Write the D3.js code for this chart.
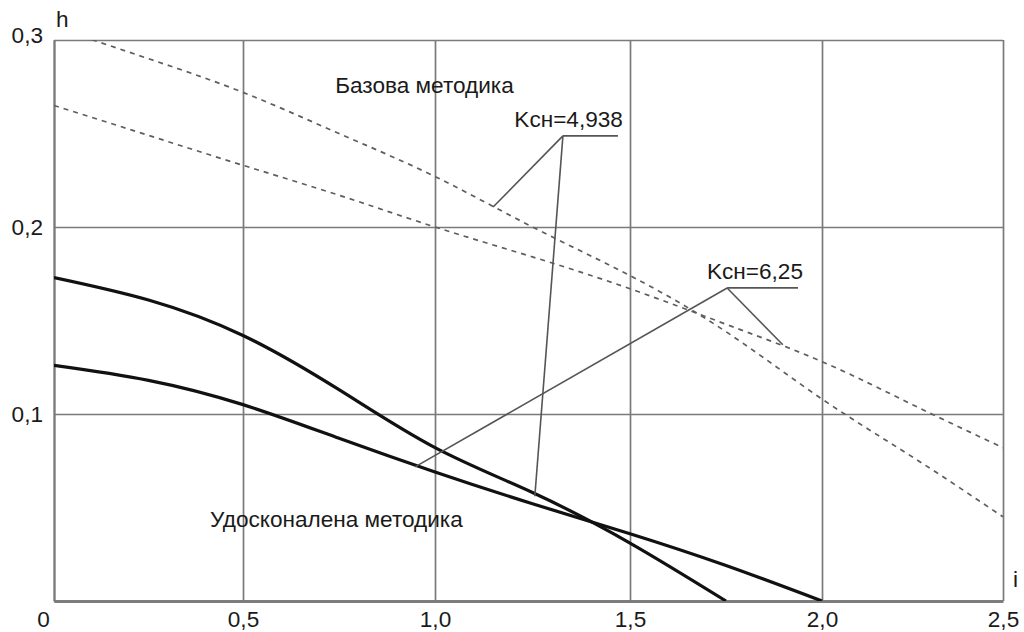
<!DOCTYPE html>
<html>
<head>
<meta charset="utf-8">
<script src="https://cdn.jsdelivr.net/npm/d3@7"></script>
<style>
  body { margin: 0; background: #fff; }
  text { font-family: "Liberation Sans", Arial, sans-serif; fill: #1a1a1a; }
</style>
</head>
<body>
<svg id="chart" width="1024" height="632"></svg>
<script>
// i grid and series
const iGrid = [0, 0.25, 0.5, 0.75, 1.0, 1.25, 1.5, 1.75, 2.0, 2.25, 2.5];
const baseK4938 = [0.307, 0.290, 0.272, 0.250, 0.227, 0.200, 0.174, 0.144, 0.108, 0.077, 0.045];
const baseK625 = [0.265, 0.249, 0.233, 0.217, 0.200, 0.184, 0.167, 0.148, 0.128, 0.105, 0.082];
const improvedK4938 = [0.173, 0.161, 0.142, 0.113, 0.082, 0.058, 0.031, 0];
const improvedK625 = [0.126, 0.118, 0.105, 0.087, 0.069, 0.052, 0.036, 0.019, 0];

const xTicks = [0, 0.5, 1.0, 1.5, 2.0, 2.5];
const xTickLabels = ["0", "0,5", "1,0", "1,5", "2,0", "2,5"];
const yTicks = [0, 0.1, 0.2, 0.3];
const yTickLabels = ["", "0,1", "0,2", "0,3"];

const svg = d3.select("#chart");
const fontSize = 22.6;

// the grid in the source is not quite even, so map each tick separately
const x = d3.scaleLinear().domain(xTicks).range([54, 243, 435, 630, 822, 1003]);
const y = d3.scaleLinear().domain([0, 0.3]).range([601, 40]);

const plotW = x(2.5) - x(0);
const plotH = y(0) - y(0.3);

svg.append("defs").append("clipPath").attr("id", "plot")
  .append("rect")
  .attr("x", x(0)).attr("y", y(0.3))
  .attr("width", plotW).attr("height", plotH);

// grid + axes
const gx = svg.append("g")
  .attr("transform", `translate(0,${y(0)})`)
  .call(d3.axisBottom(x)
    .tickValues(xTicks)
    .tickSizeInner(-plotH)
    .tickSizeOuter(0)
    .tickPadding(10)
    .tickFormat((d, k) => xTickLabels[k]));

const gy = svg.append("g")
  .attr("transform", `translate(${x(0)},0)`)
  .call(d3.axisLeft(y)
    .tickValues(yTicks)
    .tickSizeInner(-plotW)
    .tickSizeOuter(0)
    .tickPadding(11)
    .tickFormat((d, k) => yTickLabels[k]));

[gx, gy].forEach(g => {
  g.selectAll(".tick line").attr("stroke", "#7a7a7a").attr("stroke-width", 1.7);
  g.selectAll("text").attr("font-size", fontSize).attr("fill", "#1a1a1a")
    .style("font-family", "'Liberation Sans', Arial, sans-serif");
});
gx.select(".domain").attr("stroke", "#808080").attr("stroke-width", 3);
gy.select(".domain").attr("stroke", "#7a7a7a").attr("stroke-width", 2);
gx.selectAll(".tick").filter(d => d === 0).select("text").attr("dx", -11);
gy.selectAll(".tick").filter(d => d === 0.3).select("text").attr("dy", "0.1em");

// axis names
svg.append("text").attr("x", x(0) + 2).attr("y", y(0.3) - 13)
  .attr("font-size", fontSize).text("h");
svg.append("text").attr("x", x(2.5) + 10).attr("y", y(0) - 14)
  .attr("font-size", fontSize).text("i");

// curves
const plot = svg.append("g").attr("clip-path", "url(#plot)");
const line = d3.line()
  .x(d => x(d[0]))
  .y(d => y(d[1]))
  .curve(d3.curveNatural);

const pair = vals => vals.map((v, k) => [iGrid[k], v]);

[baseK4938, baseK625].forEach(s => {
  plot.append("path")
    .attr("d", line(pair(s)))
    .attr("fill", "none")
    .attr("stroke", "#5e5e5e")
    .attr("stroke-width", 1.7)
    .attr("stroke-dasharray", "5,5");
});

[improvedK4938, improvedK625].forEach(s => {
  plot.append("path")
    .attr("d", line(pair(s)))
    .attr("fill", "none")
    .attr("stroke", "#111")
    .attr("stroke-width", 3.2);
});

// leader callouts
const callouts = [
  { label: "Kсн=4,938", knee: [1.328, 0.2487], end: 1.469, targets: [[1.149, 0.2107], [1.256, 0.056]] },
  { label: "Kсн=6,25", knee: [1.753, 0.1674], end: 1.9375, targets: [[0.948, 0.0717], [1.898, 0.137]] }
];

callouts.forEach(c => {
  const g = svg.append("g");
  const kx = x(c.knee[0]), ky = y(c.knee[1]);
  g.append("line")
    .attr("x1", kx).attr("y1", ky).attr("x2", x(c.end)).attr("y2", ky)
    .attr("stroke", "#555").attr("stroke-width", 1.7);
  c.targets.forEach(t => {
    g.append("line")
      .attr("x1", kx).attr("y1", ky).attr("x2", x(t[0])).attr("y2", y(t[1]))
      .attr("stroke", "#555").attr("stroke-width", 1.6);
  });
  g.append("text")
    .attr("x", x(c.end) + 5).attr("y", ky - 9)
    .attr("text-anchor", "end")
    .attr("font-size", fontSize)
    .text(c.label);
});

svg.append("text").attr("x", x(0.74)).attr("y", y(0.2717))
  .attr("font-size", fontSize).text("Базова методика");
svg.append("text").attr("x", x(0.413)).attr("y", y(0.0396))
  .attr("font-size", fontSize).text("Удосконалена методика");
</script>
</body>
</html>
